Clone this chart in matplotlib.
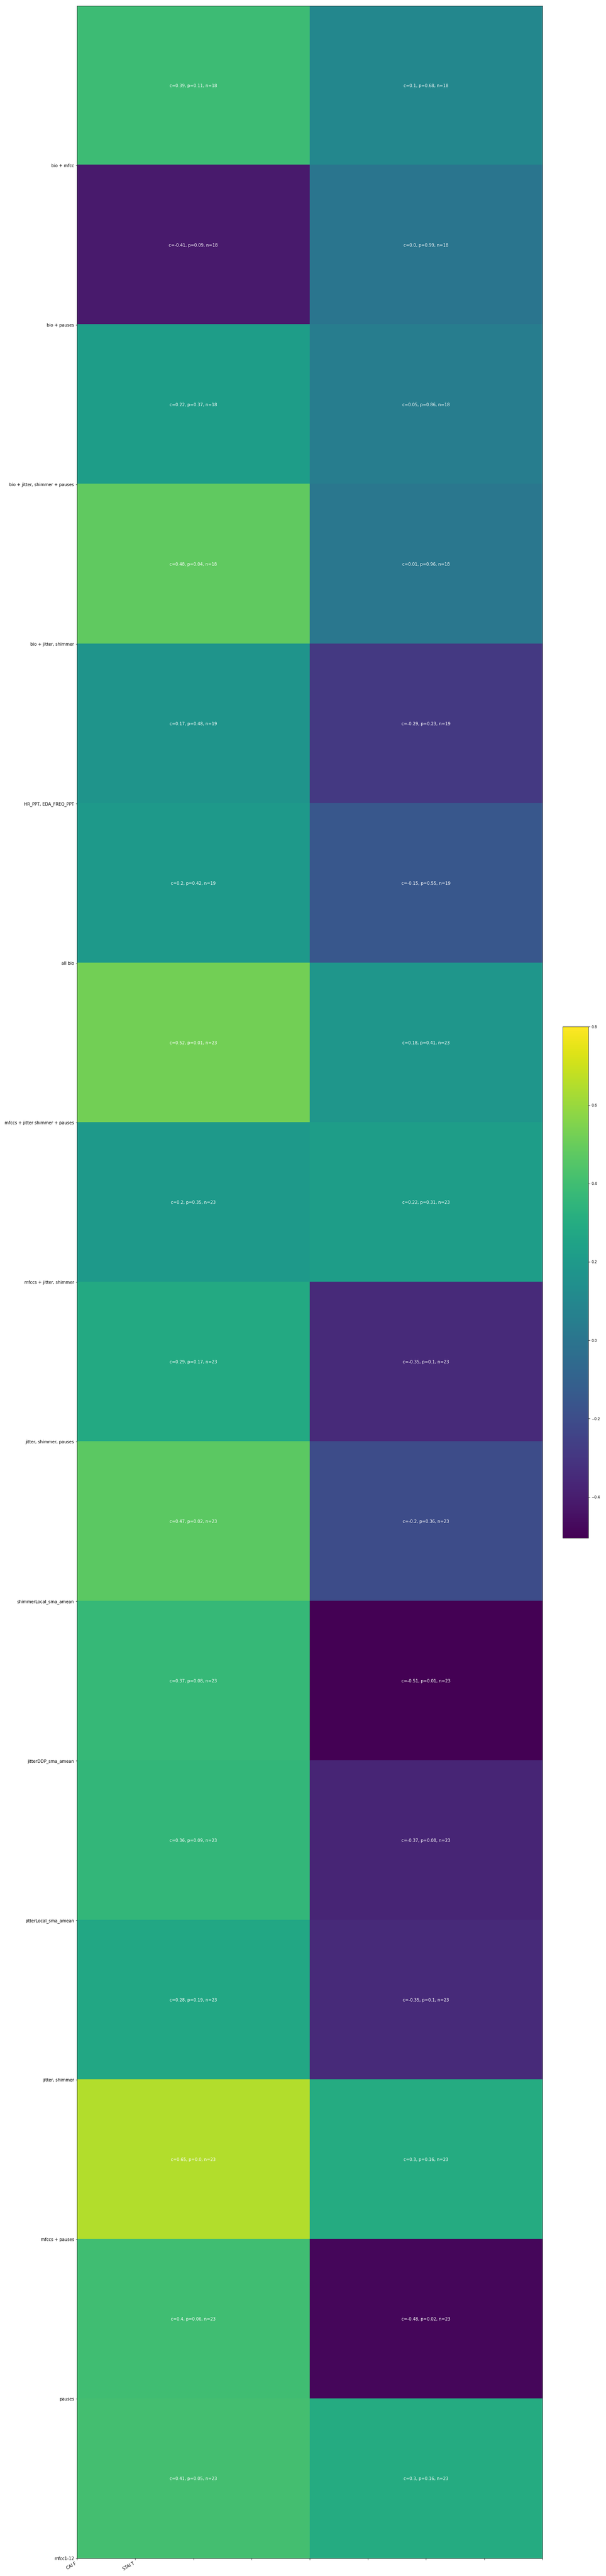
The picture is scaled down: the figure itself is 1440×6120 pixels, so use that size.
import numpy as np
import matplotlib
matplotlib.use("Agg")
import matplotlib.pyplot as plt

# ---- data ----
feature_sets = [
    "bio + mfcc", "bio + pauses", "bio + jitter, shimmer + pauses",
    "bio + jitter, shimmer", "HR_PPT, EDA_FREQ_PPT", "all bio",
    "mfccs + jitter shimmer + pauses", "mfccs + jitter, shimmer",
    "jitter, shimmer, pauses", "shimmerLocal_sma_amean",
    "jitterDDP_sma_amean", "jitterLocal_sma_amean", "jitter, shimmer",
    "mfccs + pauses", "pauses", "mfcc1-12",
]
targets = ["CAI F", "STAI T"]

c_cai = [0.39, -0.41, 0.22, 0.48, 0.17, 0.2, 0.52, 0.2,
         0.29, 0.47, 0.37, 0.36, 0.28, 0.65, 0.4, 0.41]
p_cai = [0.11, 0.09, 0.37, 0.04, 0.48, 0.42, 0.01, 0.35,
         0.17, 0.02, 0.08, 0.09, 0.19, 0.0, 0.06, 0.05]
c_stai = [0.1, 0.0, 0.05, 0.01, -0.29, -0.15, 0.18, 0.22,
          -0.35, -0.2, -0.51, -0.37, -0.35, 0.3, -0.48, 0.3]
p_stai = [0.68, 0.99, 0.86, 0.96, 0.23, 0.55, 0.41, 0.31,
          0.1, 0.36, 0.01, 0.08, 0.1, 0.16, 0.02, 0.16]
n_obs = [18, 18, 18, 18, 19, 19, 23, 23,
         23, 23, 23, 23, 23, 23, 23, 23]

vmin, vmax = -0.505, 0.8

corr = np.column_stack([c_cai, c_stai])
pvals = np.column_stack([p_cai, p_stai])
nrows, ncols = corr.shape

fig = plt.figure(figsize=(20, 85), dpi=72)
ax = fig.add_axes([0.1271, 0.00686, 0.768, 0.99085])
im = ax.imshow(corr, cmap="viridis", aspect="auto", interpolation="nearest",
               extent=(0, ncols, nrows, 0), vmin=vmin, vmax=vmax)

for i in range(nrows):
    for j in range(ncols):
        ax.text(j + 0.5, i + 0.5,
                f"c={corr[i, j]}, p={pvals[i, j]}, n={n_obs[i]}",
                ha="center", va="center", color="white", fontsize=10)

ax.set_yticks(np.arange(1, nrows + 1))
ax.set_yticklabels(feature_sets)
xt = np.arange(0, ncols + 0.001, 0.25)
ax.set_xticks(xt)
ax.set_xticklabels(targets + [""] * (len(xt) - len(targets)),
                   rotation=30, ha="right")
ax.set_xlim(0, ncols)
ax.set_ylim(nrows, 0)

cax = fig.add_axes([0.9285, 0.4029, 0.0424, 0.1985])
cb = fig.colorbar(im, cax=cax)
cb.set_ticks([-0.4, -0.2, 0.0, 0.2, 0.4, 0.6, 0.8])
cb.ax.tick_params(labelsize=8.5)

fig.savefig("out.png", dpi=72)
